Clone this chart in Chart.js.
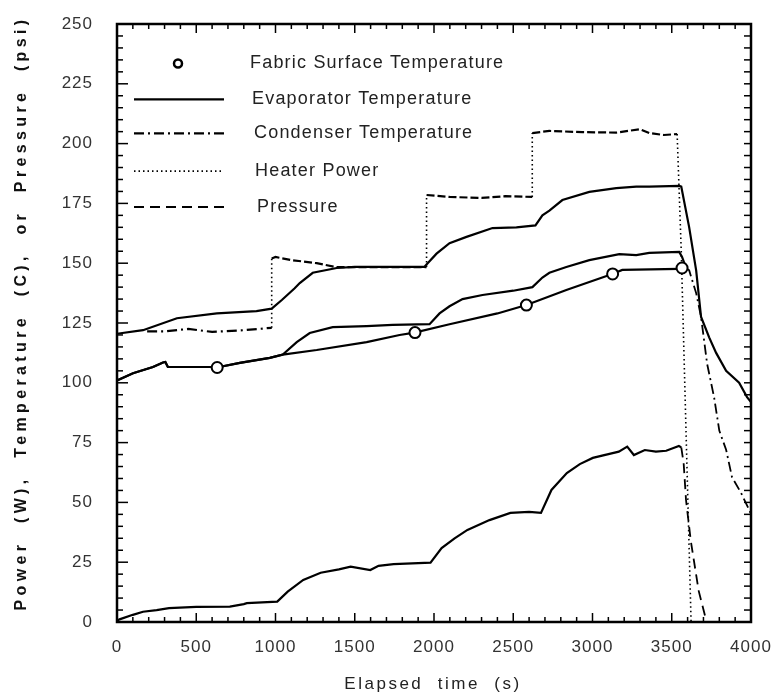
<!DOCTYPE html>
<html><head><meta charset="utf-8">
<script src="https://cdn.jsdelivr.net/npm/chart.js@4/dist/chart.umd.min.js"></script>
<style>html,body{margin:0;padding:0;background:#fff}#wrap{width:780px;height:698px}</style>
</head><body><div id="wrap"><canvas id="c" width="780" height="698"></canvas></div>
<script>
// ---- data ----
const seriesNames = ["Fabric Surface Temperature","Evaporator Temperature","Condenser Temperature","Heater Power","Pressure"];
const xTicks = [0,500,1000,1500,2000,2500,3000,3500,4000];
const yTicks = [0,25,50,75,100,125,150,175,200,225,250];
const xTitle = "Elapsed  time  (s)";
const yTitle = "Power  (W),  Temperature  (C),  or  Pressure  (psi)";

const fabricMarkTime = [632,1880,2583,3127,3565];
const fabricMarkTemp = [106.4,121,132.5,145.5,148];

const fabricTime = [0,101,227,290,305,321,586,630,775,964,1046,1260,1575,1783,1877,2098,2400,2583,2835,3125,3188,3547,3570];
const fabricTemp = [101,104,106.6,108.5,108.7,106.6,106.6,106.4,108.3,110.4,111.8,113.7,117,120,121,124.5,129,132.5,138.8,145.5,147.2,147.6,148];

const evapTime = [0,164,378,630,880,976,1040,1121,1153,1235,1386,1500,1700,1940,1960,2016,2098,2205,2369,2520,2640,2684,2728,2810,2980,3150,3276,3358,3547,3560,3610,3654,3685,3736,3780,3843,3925,3975,4000];
const evapTemp = [120.5,122,127,129,130,131,134.6,139.5,141.7,146,148,148.5,148.5,148.5,150,154,158.4,161,164.7,165,165.8,170,172,176.4,179.8,181.4,182,182,182.3,182,165,147,127.5,119,112.5,105,100,94,92];

const condTime = [0,101,227,290,305,321,586,630,775,964,1046,1134,1216,1361,1575,1739,1972,2035,2098,2180,2306,2500,2621,2684,2728,2835,2980,3169,3276,3358,3547,3565,3590,3610,3654,3685,3723,3767,3800,3843,3880,3937,3988,4000];
const condTemp = [101,104,106.6,108.5,108.7,106.6,106.6,106.4,108.3,110.4,111.8,117,120.8,123.3,123.7,124.2,124.5,129,132,135,136.7,138.5,140,144,146,148.4,151.3,153.8,153.4,154.3,154.7,152.6,148,147,137.5,127.5,108,94,80,72,60.6,54,47,45];

const heaterTime = [190,300,450,600,800,976,976,1000,1100,1260,1380,1953,1953,2098,2300,2450,2620,2620,2728,2935,3150,3300,3360,3450,3534,3560,3622];
const heaterPower = [121.5,121.5,122.5,121.3,122,123,152,152.6,151.3,150,148.4,148.4,178.5,177.7,177.3,178,177.7,204.4,205.3,204.8,204.6,206,204.4,203.6,204,155,0];

const presTime = [0,16,100,164,250,328,500,712,800,819,1011,1077,1175,1285,1400,1474,1598,1650,1745,1978,2048,2130,2211,2350,2482,2600,2675,2741,2838,2920,3002,3166,3219,3261,3330,3400,3465,3545,3560,3575,3590,3620,3670,3720];
const presVal = [0.5,1.1,3,4.3,5,5.8,6.3,6.4,7.5,7.9,8.5,12.7,17.6,20.6,22,23.1,21.7,23.5,24.2,24.8,30.9,35,38.5,42.6,45.6,46,45.6,55.2,62.3,66,68.6,71.2,73.3,69.8,71.9,71.2,71.6,73.6,73,66.5,51,34,13,0];

// ---- helpers ----
const pts = (xs, ys) => xs.map((x, i) => ({x, y: ys[i]}));
const FONT = "'Liberation Sans', Arial, Helvetica, sans-serif";
const DASHDOT = [10,4,2,4];
const DASHED = [10,6];
const DOTTED = [1.5,3];

const framePlugin = {
  id: 'frame',
  beforeDraw(chart) { chart.ctx.letterSpacing = '1px'; },
  afterDatasetsDraw(chart) {
    const {ctx, chartArea: a, scales: {x, y}} = chart;
    ctx.save();
    ctx.strokeStyle = '#000';
    ctx.setLineDash([]);
    ctx.lineWidth = 2.5;
    ctx.strokeRect(a.left, a.top, a.right - a.left, a.bottom - a.top);
    ctx.lineWidth = 1.5;
    const seg = (x1,y1,x2,y2) => { ctx.beginPath(); ctx.moveTo(x1,y1); ctx.lineTo(x2,y2); ctx.stroke(); };
    for (let t = 0; t <= 4000; t += 100) {
      const px = x.getPixelForValue(t);
      const L = t % 500 === 0 ? 9 : 5;
      seg(px, a.bottom, px, a.bottom - L);
      seg(px, a.top, px, a.top + L);
    }
    for (let v = 0; v <= 250; v += 5) {
      const py = y.getPixelForValue(v);
      const L = v % 25 === 0 ? 11 : 6;
      seg(a.left, py, a.left + L, py);
      seg(a.right, py, a.right - 7, py);
    }
    ctx.restore();
  },
  afterDraw(chart) {
    const {ctx, scales: {y}} = chart;
    ctx.save();
    ctx.fillStyle = '#222';
    ctx.strokeStyle = '#000';
    // legend inside the plot
    const rows = [
      {label: seriesNames[0], v: 233.5, tx: 250, kind: 'circle'},
      {label: seriesNames[1], v: 218.5, tx: 252, kind: 'line', dash: []},
      {label: seriesNames[2], v: 204.3, tx: 254, kind: 'line', dash: DASHDOT},
      {label: seriesNames[3], v: 188.5, tx: 255, kind: 'line', dash: DOTTED},
      {label: seriesNames[4], v: 173.5, tx: 257, kind: 'line', dash: DASHED}
    ];
    ctx.font = '18px ' + FONT;
    ctx.letterSpacing = '1.2px';
    ctx.textBaseline = 'middle';
    ctx.textAlign = 'left';
    rows.forEach(r => {
      const py = y.getPixelForValue(r.v);
      if (r.kind === 'circle') {
        ctx.setLineDash([]);
        ctx.lineWidth = 2.5;
        ctx.beginPath(); ctx.arc(178, py, 4, 0, Math.PI * 2); ctx.stroke();
      } else {
        ctx.setLineDash(r.dash);
        ctx.lineWidth = r.dash === DOTTED ? 1.8 : 2.2;
        ctx.beginPath(); ctx.moveTo(134, py); ctx.lineTo(224, py); ctx.stroke();
      }
      ctx.fillText(r.label, r.tx, py);
    });
    ctx.setLineDash([]);
    // x title
    ctx.fillStyle = '#222';
    ctx.font = '17px ' + FONT;
    ctx.letterSpacing = '2.5px';
    ctx.textAlign = 'center';
    ctx.fillText(xTitle, 433, 684);
    // y title (rotated, stretched to the reference span)
    ctx.font = 'bold 16px ' + FONT;
    ctx.letterSpacing = '0px';
    const w0 = ctx.measureText(yTitle).width;
    const sp = (595 - w0) / yTitle.length;
    ctx.letterSpacing = sp.toFixed(2) + 'px';
    ctx.translate(22, 313);
    ctx.rotate(-Math.PI / 2);
    ctx.fillStyle = '#111';
    ctx.fillText(yTitle, 0, 0);
    ctx.restore();
  }
};

const isVertical = c => Math.abs(c.p1.y - c.p0.y) > Math.abs(c.p1.x - c.p0.x);
const heaterSegDash = c => isVertical(c) ? DOTTED : (c.p0DataIndex < 5 ? DASHDOT : [8,3]);
const heaterSegWidth = c => isVertical(c) ? 1.6 : 2.2;

new Chart(document.getElementById('c'), {
  type: 'line',
  data: {
    datasets: [
      {label: seriesNames[0], data: pts(fabricMarkTime, fabricMarkTemp), showLine: false,
       pointRadius: 5.5, pointBorderWidth: 2, pointBorderColor: '#000', pointBackgroundColor: '#fff', borderColor: '#000'},
      {label: seriesNames[0] + ' trace', data: pts(fabricTime, fabricTemp), borderColor: '#000', borderWidth: 2.2, pointRadius: 0, tension: 0},
      {label: seriesNames[1], data: pts(evapTime, evapTemp), borderColor: '#000', borderWidth: 2.2, pointRadius: 0, tension: 0},
      {label: seriesNames[2], data: pts(condTime, condTemp), borderColor: '#000', borderWidth: 2.2, pointRadius: 0, tension: 0,
       segment: {borderDash: c => c.p0.parsed.x >= 3580 ? DASHDOT : undefined, borderWidth: c => c.p0.parsed.x >= 3580 ? 1.8 : undefined}},
      {label: seriesNames[3], data: pts(heaterTime, heaterPower), borderColor: '#000', borderWidth: 1.6, pointRadius: 0, tension: 0,
       segment: {borderDash: heaterSegDash, borderWidth: heaterSegWidth}},
      {label: seriesNames[4], data: pts(presTime, presVal), borderColor: '#000', borderWidth: 2.2, pointRadius: 0, tension: 0,
       segment: {borderDash: c => c.p0.parsed.x >= 3560 ? DASHED : undefined, borderWidth: c => c.p0.parsed.x >= 3560 ? 1.8 : undefined}}
    ]
  },
  options: {
    responsive: false,
    animation: false,
    devicePixelRatio: 1,
    layout: {padding: {top: 24, right: 29, bottom: 0, left: 0}},
    plugins: {legend: {display: false}, tooltip: {enabled: false}},
    scales: {
      x: {
        type: 'linear', min: 0, max: 4000,
        afterBuildTicks: s => { s.ticks = xTicks.map(v => ({value: v})); },
        afterFit: s => { s.height = 76; s.paddingLeft = 0; s.paddingRight = 0; },
        grid: {display: false, drawTicks: false},
        border: {display: false},
        ticks: {color: '#333', font: {family: FONT, size: 17}, padding: 15, maxRotation: 0, autoSkip: false,
                callback: v => String(v)}
      },
      y: {
        type: 'linear', min: 0, max: 250,
        afterBuildTicks: s => { s.ticks = yTicks.map(v => ({value: v})); },
        afterFit: s => { s.width = 117; s.paddingTop = 0; s.paddingBottom = 0; },
        grid: {display: false, drawTicks: false},
        border: {display: false},
        ticks: {color: '#333', font: {family: FONT, size: 17}, padding: 24, callback: v => String(v)}
      }
    }
  },
  plugins: [framePlugin]
});
</script>
</body></html>
